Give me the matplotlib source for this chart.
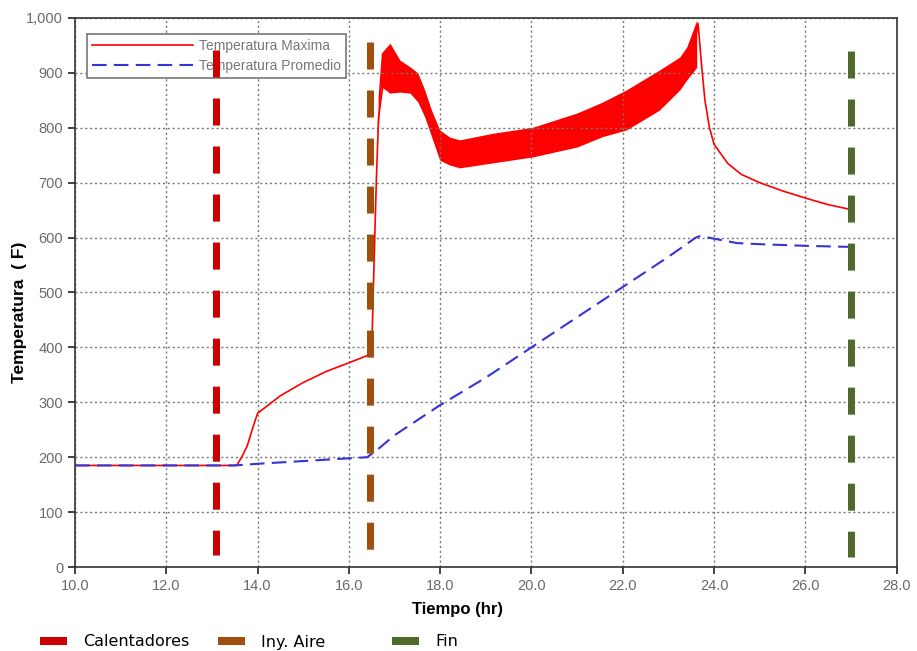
import matplotlib.pyplot as plt
from matplotlib.lines import Line2D
from matplotlib.ticker import FuncFormatter, MultipleLocator

# Temperatura maxima (linea central)
t_max = [10.0, 13.5, 13.55, 13.65, 13.77, 13.9, 14.0, 14.5, 15.0, 15.5, 16.0,
         16.4, 16.5, 16.55, 16.6, 16.65, 16.75, 16.9, 17.2, 17.5, 17.7, 18.0,
         18.3, 19.0, 20.0, 21.0, 22.0, 23.0, 23.5, 23.65, 23.72, 23.8, 23.9,
         24.0, 24.3, 24.6, 25.0, 25.5, 26.0, 26.5, 27.0]
temp_max = [185, 185, 186, 200, 220, 255, 280, 312, 336, 356, 372,
            385, 395, 550, 700, 820, 880, 905, 890, 872, 845, 768,
            755, 762, 775, 798, 832, 868, 915, 990, 920, 850, 800,
            770, 735, 715, 700, 685, 672, 660, 651]

# Banda de oscilacion de la temperatura maxima
t_band = [16.64, 16.71, 16.9, 17.12, 17.34, 17.51, 17.66, 17.81, 17.99, 18.21,
          18.43, 19.15, 20.03, 21.0, 21.56, 22.08, 22.8, 23.25, 23.4, 23.62]
band_hi = [857, 936, 954, 923, 911, 900, 869, 832, 796, 783,
           778, 790, 801, 827, 847, 869, 905, 929, 947, 996]
band_lo = [796, 875, 863, 865, 863, 847, 820, 784, 741, 732,
           727, 736, 747, 765, 784, 796, 832, 869, 887, 910]

# Temperatura promedio
t_avg = [10.0, 13.5, 14.0, 15.0, 16.0, 16.4, 16.6, 17.0, 18.0, 19.0, 20.0,
         21.0, 22.0, 23.0, 23.6, 23.7, 24.0, 24.5, 25.0, 26.0, 27.0]
temp_avg = [185, 185, 188, 193, 198, 200, 212, 240, 295, 345, 400,
            455, 510, 565, 600, 603, 598, 590, 588, 585, 583]

# Eventos (lineas verticales)
event_names = ['Calentadores', 'Iny. Aire', 'Fin']
event_t = [13.09, 16.46, 26.99]
event_lo = [22, 31, 18]
event_hi = [941, 956, 940]
event_colors = ['#cc0000', '#a0500c', '#4f6a2b']

fig = plt.figure(figsize=(9.17, 6.51), dpi=100)
ax = fig.add_axes([0.0818, 0.129, 0.896, 0.8434])

ax.fill_between(t_band, band_lo, band_hi, color='red', lw=0)
ax.plot(t_max, temp_max, color='red', lw=1.2, label='Temperatura Maxima')
ax.plot(t_avg, temp_avg, color='#3535d5', lw=1.5, dashes=(7, 3.5),
        label='Temperatura Promedio')

# lineas de eventos, trazadas de arriba hacia abajo (encima de la leyenda)
for t, lo, hi, c in zip(event_t, event_lo, event_hi, event_colors):
    ax.plot([t, t], [hi, lo], color=c, lw=5.04, dashes=(3.86, 3.0), zorder=6)

ax.set_xlim(10, 28)
ax.set_ylim(0, 1000)
ax.xaxis.set_major_locator(MultipleLocator(2))
ax.yaxis.set_major_locator(MultipleLocator(100))
ax.xaxis.set_major_formatter(FuncFormatter(lambda v, p: f'{v:.1f}'))
ax.yaxis.set_major_formatter(FuncFormatter(lambda v, p: f'{v:,.0f}'))
ax.tick_params(direction='out', length=5, width=1.2, labelsize=10.5,
               labelcolor='#6a6a6a', color='#222222')
for lab in ax.get_xticklabels() + ax.get_yticklabels():
    lab.set_family('Liberation Sans')
for s in ax.spines.values():
    s.set_color('#333333')
    s.set_linewidth(1.2)
ax.grid(True, color='#777777', ls=(0, (1.5, 2)), lw=1.0)

ax.set_xlabel('Tiempo (hr)', fontsize=12, fontweight='bold',
              family='Liberation Sans')
ax.xaxis.set_label_coords(0.466, -0.064)
ax.set_ylabel('Temperatura  ( F)', fontsize=12.5, fontweight='bold',
              family='Liberation Sans')
ax.yaxis.set_label_coords(-0.058, 0.464)

leg = ax.legend(loc='upper left', bbox_to_anchor=(0.0146, 0.971),
                prop={'family': 'Liberation Sans', 'size': 10},
                handlelength=7.3, fancybox=False, framealpha=1,
                edgecolor='#777777', borderpad=0.35, labelspacing=0.45,
                handletextpad=0.4, borderaxespad=0)
leg.get_frame().set_linewidth(1.2)
leg.set_zorder(5)
for txt in leg.get_texts():
    txt.set_color('#777777')

# leyenda inferior de eventos
legend_x = [40, 218, 392]
for name, c, px in zip(event_names, event_colors, legend_x):
    h = Line2D([], [], color=c, lw=5.8, solid_capstyle='butt')
    fig.legend([h], [name], loc='center left',
               bbox_to_anchor=(px / 917, 1 - 642 / 651), frameon=False,
               fontsize=11.5, handlelength=1.7, handletextpad=1.0,
               borderpad=0, borderaxespad=0)

fig.savefig('out.png', dpi=100)
